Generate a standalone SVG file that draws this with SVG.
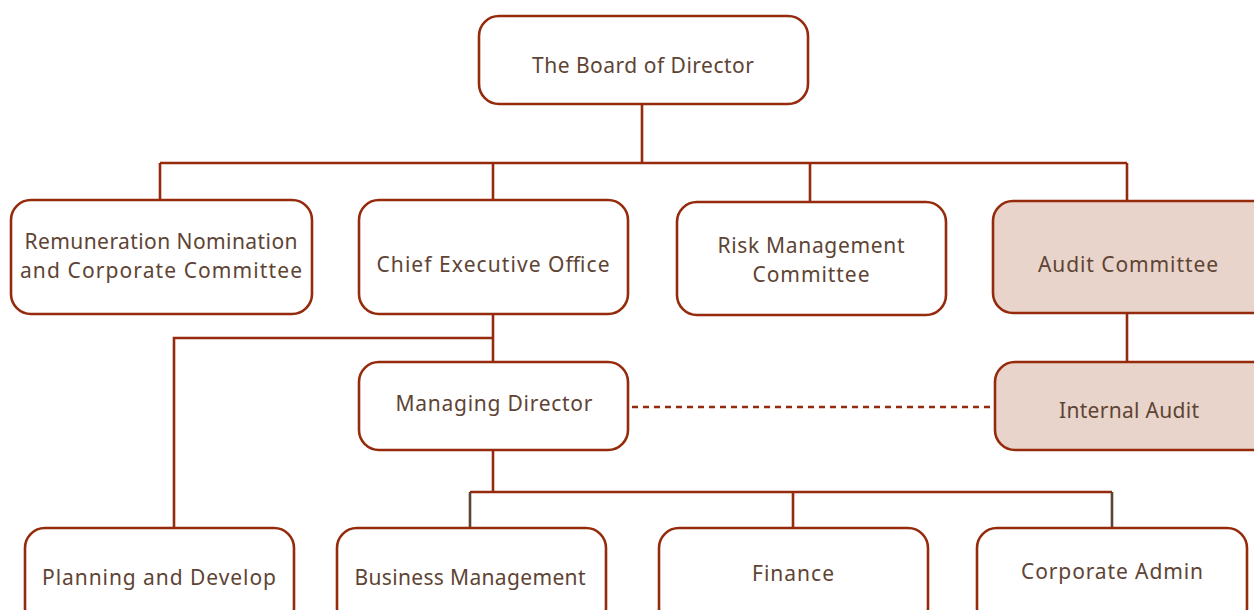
<svg xmlns="http://www.w3.org/2000/svg" width="1254" height="610" viewBox="0 0 1254 610">
<style>
.box{fill:#ffffff;stroke:#952b0c;stroke-width:2.6}
.hl{fill:#e8d4ca}
.ln{fill:none;stroke:#952b0c;stroke-width:2.6}
.dk{stroke:#5e4434}
.dash{fill:none;stroke:#952b0c;stroke-width:2.6;stroke-dasharray:6 5}
text{font-family:"Noto Sans","DejaVu Sans",sans-serif;font-size:21px;fill:#5e4434;text-anchor:middle}
</style>
<rect width="1254" height="610" fill="#ffffff"/>
<g id="connectors">
<path class="ln" d="M642 104V163M160 163H1127M160 163V200M493 163V200M810 163V202M1127 163V201"/>
<path class="ln" d="M493 314V362M493 338H174V528"/>
<path class="ln" d="M1127 313V362"/>
<path class="dash" d="M632 407H992"/>
<path class="ln" d="M493 450V492M470 492H1112M793 492V528"/>
<path class="ln dk" d="M470 492V528M1112 492V528"/>
</g>
<g id="board"><rect class="box" x="479" y="16" width="329" height="88" rx="20"/><text x="643" y="73" textLength="222">The Board of Director</text></g>
<g id="remuneration"><rect class="box" x="11" y="200" width="301" height="114" rx="20"/><text x="161" y="249" textLength="273">Remuneration Nomination</text><text x="161" y="278" textLength="282">and Corporate Committee</text></g>
<g id="ceo"><rect class="box" x="359" y="200" width="269" height="114" rx="20"/><text x="493" y="272" textLength="233">Chief Executive Office</text></g>
<g id="risk"><rect class="box" x="677" y="202" width="269" height="113" rx="20"/><text x="811" y="253" textLength="187">Risk Management</text><text x="811" y="282" textLength="117">Committee</text></g>
<g id="audit"><rect class="box hl" x="993" y="201" width="280" height="112" rx="20"/><text x="1128" y="272" textLength="180">Audit Committee</text></g>
<g id="md"><rect class="box" x="359" y="362" width="269" height="88" rx="20"/><text x="494" y="411" textLength="197">Managing Director</text></g>
<g id="internal-audit"><rect class="box hl" x="995" y="362" width="280" height="88" rx="20"/><text x="1129" y="418" textLength="140">Internal Audit</text></g>
<g id="planning"><rect class="box" x="25" y="528" width="269" height="100" rx="20"/><text x="159" y="585" textLength="234">Planning and Develop</text></g>
<g id="business"><rect class="box" x="337" y="528" width="269" height="100" rx="20"/><text x="470" y="585" textLength="231">Business Management</text></g>
<g id="finance"><rect class="box" x="659" y="528" width="269" height="100" rx="20"/><text x="793" y="581" textLength="82">Finance</text></g>
<g id="corporate-admin"><rect class="box" x="977" y="528" width="270" height="100" rx="20"/><text x="1112" y="579" textLength="182">Corporate Admin</text></g>
</svg>
